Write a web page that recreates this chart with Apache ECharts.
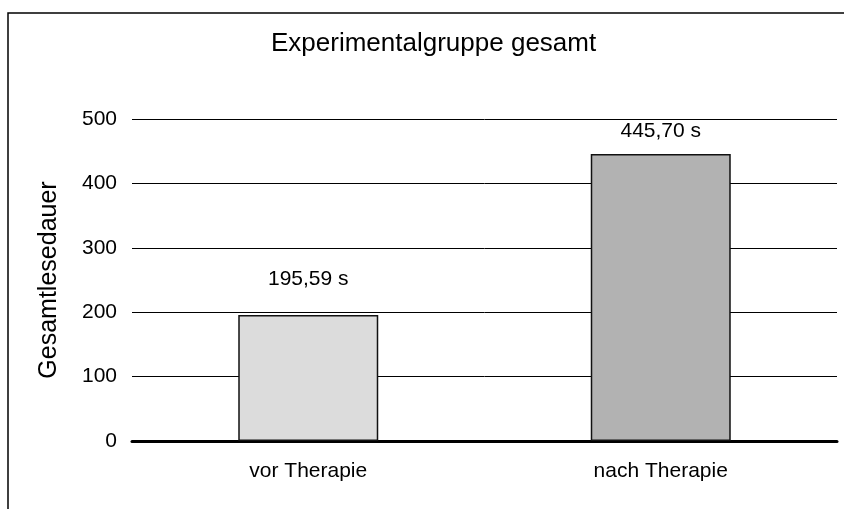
<!DOCTYPE html>
<html>
<head>
<meta charset="utf-8">
<script src="https://cdn.jsdelivr.net/npm/echarts@6/dist/echarts.min.js"></script>
<style>
  html, body { margin: 0; padding: 0; background: #fff; }
  #myChart { width: 844px; height: 509px; }
</style>
</head>
<body>
<div id="myChart"></div>
<script>
  // Daten
  const categories = ['vor Therapie', 'nach Therapie']
  const values = [195.59, 445.70]
  const barColors = ['#dcdcdc', '#b2b2b2']
  const labelGaps = [25, 12]
  const yTicks = { min: 0, max: 500, interval: 100 }

  const myChart = echarts.init(document.getElementById('myChart'))
  const font = '"Liberation Sans", Arial, sans-serif'

  const option = {
    animation: false,
    backgroundColor: '#fff',
    textStyle: { fontFamily: font, color: '#000' },
    title: {
      text: 'Experimentalgruppe gesamt',
      left: 271,
      top: 31,
      padding: 0,
      textStyle: { fontFamily: font, fontSize: 26, fontWeight: 'normal', color: '#000' }
    },
    graphic: [
      {
        type: 'polyline',
        shape: { points: [[8, 600], [8, 13], [900, 13]] },
        style: { stroke: '#000', lineWidth: 1.5, fill: null }
      }
    ],
    grid: { left: 132, right: 7, top: 119, bottom: 68 },
    xAxis: {
      type: 'category',
      data: categories,
      axisLine: { lineStyle: { color: '#000', width: 3 } },
      axisTick: { show: false },
      axisLabel: { fontFamily: font, fontSize: 21, color: '#000', margin: 20 }
    },
    yAxis: {
      type: 'value',
      min: yTicks.min,
      max: yTicks.max,
      interval: yTicks.interval,
      name: 'Gesamtlesedauer',
      nameLocation: 'middle',
      nameRotate: 90,
      nameGap: 70,
      nameTextStyle: { fontFamily: font, fontSize: 25, color: '#000' },
      axisLine: { show: false },
      axisTick: { show: false },
      axisLabel: { fontFamily: font, fontSize: 21, color: '#000', margin: 15 },
      splitLine: { lineStyle: { color: '#000', width: 1 } }
    },
    series: [
      {
        type: 'bar',
        barWidth: 140,
        data: values.map(function(v, i) {
          return {
            value: v,
            itemStyle: { color: barColors[i], borderColor: '#111', borderWidth: 1.5 },
            label: { distance: labelGaps[i] }
          }
        }),
        label: {
          show: true,
          position: 'top',
          fontFamily: font,
          fontSize: 21,
          color: '#000',
          formatter: function(p) {
            return p.value.toFixed(2).replace('.', ',') + ' s'
          }
        }
      }
    ]
  }
  myChart.setOption(option)
</script>
</body>
</html>
